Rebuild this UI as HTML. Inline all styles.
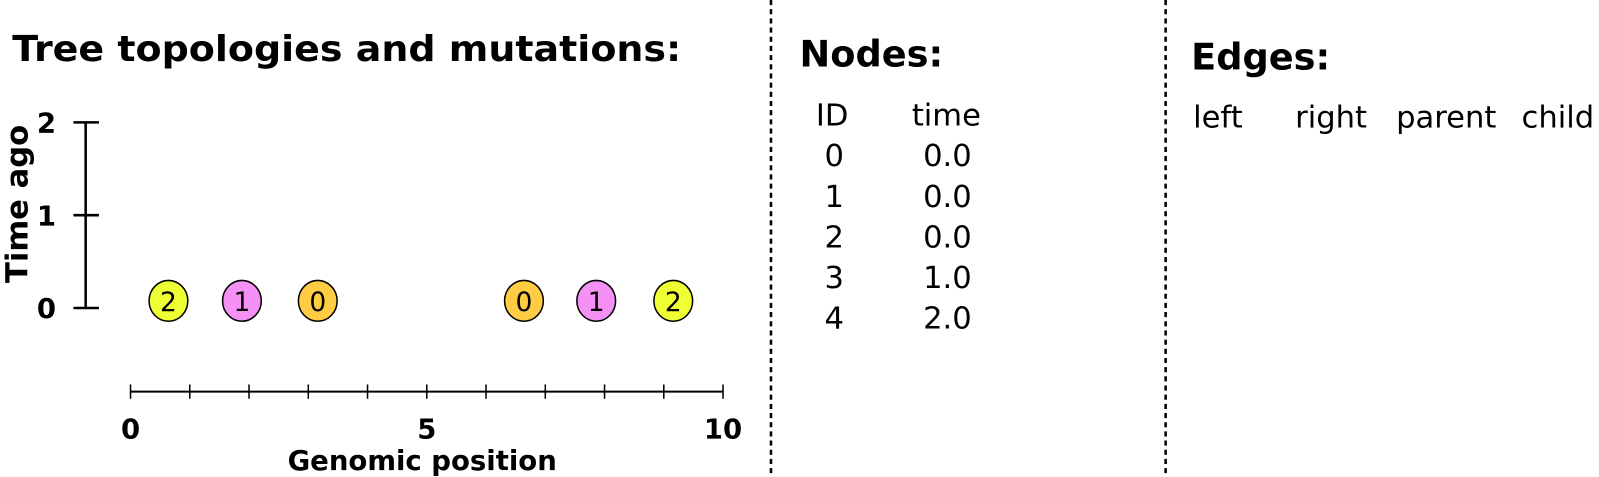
<!DOCTYPE html>
<html><head><meta charset="utf-8"><style>
html,body{margin:0;padding:0;background:#fff}
svg{display:block;font-family:"DejaVu Sans","Liberation Sans",sans-serif}
</style></head><body>
<svg id="c" width="1599" height="477" viewBox="0 0 1599 477">
<g transform="scale(1.0198)">
<text x="12" y="60" font-size="35" font-weight="bold" textLength="656" lengthAdjust="spacingAndGlyphs">Tree topologies and mutations:</text>
<line x1="756" y1="0" x2="756" y2="470" stroke="#000" stroke-width="2.5" stroke-dasharray="5,4"/>
<line x1="1143" y1="0" x2="1143" y2="470" stroke="#000" stroke-width="2.5" stroke-dasharray="5,4"/>
<g id="yaxis"></g>
<g id="xaxis"></g>
<g id="muts"></g>
<text x="0" y="0" font-size="30" font-weight="bold" text-anchor="middle" transform="translate(27 200) rotate(-90)">Time ago</text>
<text x="414" y="461" font-size="27" font-weight="bold" text-anchor="middle">Genomic position</text>
<text x="784" y="65" font-size="36" font-weight="bold">Nodes:</text>
<g id="nodes" font-size="30"></g>
<text x="1168" y="68" font-size="36" font-weight="bold">Edges:</text>
<g font-size="30">
<text x="1170" y="125">left</text>
<text x="1270" y="125">right</text>
<text x="1369" y="125">parent</text>
<text x="1492" y="125">child</text>
</g>
</g>
</svg>
<script>
const yTicks=[0,1,2];
const xTickVals=[0,1,2,3,4,5,6,7,8,9,10];
const xLabels=[0,5,10];
const mutPos=[0.64,1.88,3.16,6.64,7.86,9.16];
const mutIds=["2","1","0","0","1","2"];
const mutTime=[0,0,0,0,0,0];
const nodeIds=["0","1","2","3","4"];
const nodeTimes=["0.0","0.0","0.0","1.0","2.0"];
const NS="http://www.w3.org/2000/svg";
const X=v=>128+v*58.1, Y=v=>302-v*91;
function mk(p,t,a,txt){const e=document.createElementNS(NS,t);for(const k in a)e.setAttribute(k,a[k]);if(txt!=null)e.textContent=txt;p.appendChild(e);return e;}
const ya=document.getElementById('yaxis');
let l=mk(ya,'line',{x1:84,x2:84,y1:Y(2),y2:Y(0),stroke:'#000','stroke-width':2.5});


yTicks.forEach(v=>{
 let t=mk(ya,'line',{x1:72,x2:97,y1:Y(v),y2:Y(v),stroke:'#000','stroke-width':2.5});
 
 
 let s=mk(ya,'text',{x:55,y:Y(v)+10,'font-size':27,'font-weight':'bold','text-anchor':'end'},v);
 
 
});
const xa=document.getElementById('xaxis');
l=mk(xa,'line',{x1:X(0),x2:X(10),y1:384,y2:384,stroke:'#000','stroke-width':2});


xTickVals.forEach(v=>{
 let t=mk(xa,'line',{x1:X(v),x2:X(v),y1:377,y2:391,stroke:'#000','stroke-width':1.5});
 
 
});
xLabels.forEach(v=>{
 let s=mk(xa,'text',{x:X(v),y:430,'font-size':27,'font-weight':'bold','text-anchor':'middle'},v);
 
 
});
const colors={"0":"#ffcc44","1":"#f590f5","2":"#eeff33"};
const mg=document.getElementById('muts');
mutPos.forEach((p,i)=>{
 let c=mk(mg,'ellipse',{cx:X(p),cy:Y(mutTime[i])-7,rx:19,ry:20,fill:colors[mutIds[i]],stroke:'#000','stroke-width':1.5});
 
 
 let s=mk(mg,'text',{x:X(p),y:Y(mutTime[i])+3,'font-size':26,'text-anchor':'middle'},mutIds[i]);
 
 
});
const ng=document.getElementById('nodes');
let h=mk(ng,'text',{x:816,y:123,'text-anchor':'middle'},'ID');


h=mk(ng,'text',{x:928,y:123,'text-anchor':'middle'},'time');


nodeIds.forEach((id,i)=>{
 const y=163+i*39.8;
 let a=mk(ng,'text',{x:818,y:y,'text-anchor':'middle'},id);
 
 
 let b=mk(ng,'text',{x:929,y:y,'text-anchor':'middle'},nodeTimes[i]);
 
 
});
</script>
</body></html>
